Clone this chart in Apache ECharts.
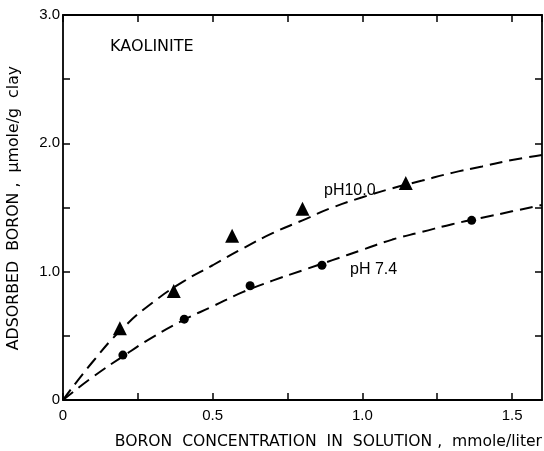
<!DOCTYPE html>
<html>
<head>
<meta charset="utf-8">
<script src="https://cdn.jsdelivr.net/npm/echarts@6/dist/echarts.min.js"></script>
<style>
  html, body { margin: 0; padding: 0; background: #fff; }
  #main { width: 544px; height: 451px; }
</style>
</head>
<body>
<div id="main"></div>
<script>
// measured points
var ph10X = [0.19, 0.37, 0.565, 0.80, 1.145];
var ph10Y = [0.56, 0.85, 1.28, 1.49, 1.69];
var ph74X = [0.20, 0.405, 0.625, 0.865, 1.365];
var ph74Y = [0.35, 0.63, 0.89, 1.05, 1.40];

// fitted dashed curves
var curveX = [0, 0.1, 0.2, 0.3, 0.4, 0.5, 0.6, 0.7, 0.8, 0.9, 1.0, 1.1, 1.2, 1.3, 1.4, 1.5, 1.6];
var curve10 = [0, 0.30, 0.56, 0.76, 0.92, 1.05, 1.18, 1.30, 1.40, 1.50, 1.58, 1.65, 1.71, 1.77, 1.82, 1.87, 1.91];
var curve74 = [0, 0.18, 0.34, 0.49, 0.62, 0.73, 0.84, 0.93, 1.01, 1.09, 1.17, 1.25, 1.31, 1.37, 1.42, 1.47, 1.52];

var xLabels = {0: '0', 0.5: '0.5', 1: '1.0', 1.5: '1.5'};
var yLabels = {0: '0', 1: '1.0', 2: '2.0', 3: '3.0'};

var xTitle = 'BORON  CONCENTRATION  IN  SOLUTION ,  mmole/liter';
var yTitle = 'ADSORBED  BORON ,  \u03bcmole/g  clay';

function pairs(xs, ys) {
    var out = [];
    for (var i = 0; i < xs.length; i++) out.push([xs[i], ys[i]]);
    return out;
}

var font = 'Liberation Sans';
var titleFont = 'DejaVu Sans';
var ink = '#000';

var myChart = echarts.init(document.getElementById('main'));
var tickStyle = {show: true, inside: true, length: 7, lineStyle: {color: ink, width: 1.5}};
var lineStyle = {show: true, onZero: false, lineStyle: {color: ink, width: 1.8}};

option = {
    animation: false,
    backgroundColor: '#fff',
    grid: {left: 63, right: 2, top: 15, bottom: 51, outerBoundsMode: 'none', containLabel: false},
    xAxis: [{
        type: 'value', min: 0, max: 1.6, interval: 0.25, position: 'bottom',
        axisLine: lineStyle,
        axisTick: tickStyle,
        splitLine: {show: false},
        axisLabel: {
            color: ink, fontFamily: font, fontSize: 15, margin: 8,
            showMaxLabel: false,
            formatter: function (v) { return xLabels[v] !== undefined ? xLabels[v] : ''; }
        }
    }, {
        type: 'value', min: 0, max: 1.6, interval: 0.25, position: 'top',
        axisLine: lineStyle,
        axisTick: tickStyle,
        axisLabel: {show: false},
        splitLine: {show: false}
    }],
    yAxis: [{
        type: 'value', min: 0, max: 3, interval: 0.5, position: 'left',
        axisLine: lineStyle,
        axisTick: tickStyle,
        splitLine: {show: false},
        axisLabel: {
            color: ink, fontFamily: font, fontSize: 15, margin: 3,
            formatter: function (v) { return yLabels[v] !== undefined ? yLabels[v] : ''; }
        }
    }, {
        type: 'value', min: 0, max: 3, interval: 0.5, position: 'right',
        axisLine: lineStyle,
        axisTick: tickStyle,
        axisLabel: {show: false},
        splitLine: {show: false}
    }],
    graphic: [
        {type: 'text', x: 542, y: 442, style: {text: xTitle, fontFamily: titleFont, fontSize: 15.6, fill: ink, align: 'right', verticalAlign: 'middle'}},
        {type: 'text', x: 14, y: 208, rotation: Math.PI / 2, style: {text: yTitle, fontFamily: titleFont, fontSize: 15.8, fill: ink, align: 'center', verticalAlign: 'middle'}},
        {type: 'text', left: 110, top: 39, style: {text: 'KAOLINITE', fontFamily: titleFont, fontSize: 16, fill: ink}},
        {type: 'text', left: 324, top: 183, style: {text: 'pH10.0', fontFamily: font, fontSize: 16, fill: ink}},
        {type: 'text', left: 350, top: 262, style: {text: 'pH 7.4', fontFamily: font, fontSize: 16, fill: ink}}
    ],
    series: [{
        name: 'pH 10.0 fit', type: 'line', smooth: true, symbol: 'none',
        data: pairs(curveX, curve10),
        lineStyle: {color: ink, width: 2, type: [13, 7]}
    }, {
        name: 'pH 7.4 fit', type: 'line', smooth: true, symbol: 'none',
        data: pairs(curveX, curve74),
        lineStyle: {color: ink, width: 2, type: [13, 7]}
    }, {
        name: 'pH 10.0', type: 'scatter', symbol: 'triangle', symbolSize: 14,
        data: pairs(ph10X, ph10Y),
        itemStyle: {color: ink, opacity: 1}
    }, {
        name: 'pH 7.4', type: 'scatter', symbol: 'circle', symbolSize: 9,
        data: pairs(ph74X, ph74Y),
        itemStyle: {color: ink, opacity: 1}
    }]
};

myChart.setOption(option);
</script>
</body>
</html>
